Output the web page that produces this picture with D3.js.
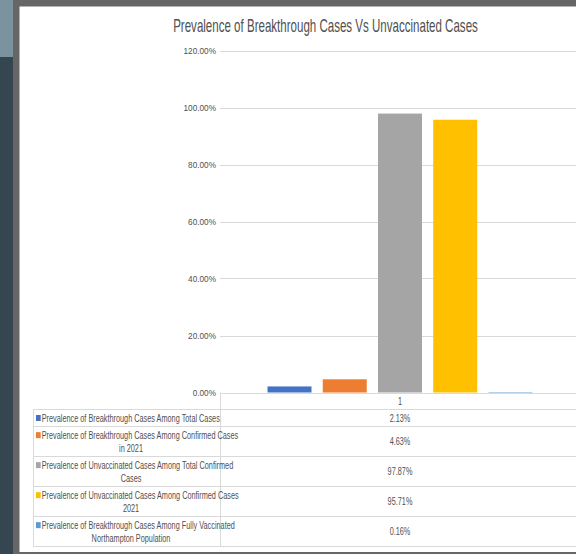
<!DOCTYPE html>
<html>
<head>
<meta charset="utf-8">
<script src="https://cdn.jsdelivr.net/npm/d3@7"></script>
<style>
  html, body { margin: 0; padding: 0; background: #666; }
  svg { display: block; }
  text { font-family: "Liberation Sans", Arial, sans-serif; fill: #505050; }
</style>
</head>
<body>
<svg id="chart" width="576" height="554"></svg>
<script>
// ---- data ----
const title = "Prevalence of Breakthrough Cases Vs Unvaccinated Cases";
const categories = ["1"];
const seriesNames = [
  "Prevalence of Breakthrough Cases Among Total Cases",
  "Prevalence of Breakthrough Cases Among Confirmed Cases\nin 2021",
  "Prevalence of Unvaccinated Cases Among Total Confirmed\nCases",
  "Prevalence of Unvaccinated Cases Among Confirmed Cases\n2021",
  "Prevalence of Breakthrough Cases Among Fully Vaccinated\nNorthampton Population"
];
const seriesValues = [0.0213, 0.0463, 0.9787, 0.9571, 0.0016];
const seriesColors = ["#4472C4", "#ED7D31", "#A5A5A5", "#FFC000", "#5B9BD5"];
const yTicks = [0, 0.2, 0.4, 0.6, 0.8, 1.0, 1.2];

// ---- layout ----
const svg = d3.select("#chart");
const W = 576, H = 554;
const plot = { left: 220, right: 580, top: 50.5, bottom: 392.5 };
const FS_TABLE = 10.6, SX_TABLE = 0.69, SX_TITLE = 0.66, SX_TICK = 0.84;

// page background / frame
svg.append("rect").attr("x", 0).attr("y", 0).attr("width", W).attr("height", H).attr("fill", "#666666");
svg.append("rect").attr("x", 0).attr("y", 0).attr("width", 13).attr("height", 57).attr("fill", "#7b939e");
svg.append("rect").attr("x", 0).attr("y", 57).attr("width", 13).attr("height", H - 57).attr("fill", "#354651");
svg.append("rect").attr("x", 19.5).attr("y", 6.5).attr("width", W - 19.5).attr("height", 545.5).attr("fill", "#ffffff");

// scales
const y = d3.scaleLinear().domain([0, 1.2]).range([plot.bottom, plot.top]);
const x0 = d3.scaleBand().domain(categories).range([plot.left, plot.right]).padding(0);
const x1 = d3.scaleBand().domain(d3.range(seriesNames.length))
  .range([0, x0.bandwidth()]).paddingInner(0.2036).paddingOuter(0.86);

// gridlines
svg.append("g").selectAll("line").data(yTicks).join("line")
  .attr("x1", plot.left).attr("x2", W)
  .attr("y1", d => Math.round(y(d)) + 0.5).attr("y2", d => Math.round(y(d)) + 0.5)
  .attr("stroke", "#d9d9d9").attr("stroke-width", 1);

// y axis labels
const fmt = d3.format(".2%");
svg.append("g").selectAll("text").data(yTicks).join("text")
  .attr("transform", d => `translate(216,${y(d)}) scale(${SX_TICK},1)`)
  .attr("text-anchor", "end").attr("dy", "0.35em")
  .style("font-size", "9.8px")
  .text(d => fmt(d));

// bars
const barG = svg.append("g");
categories.forEach(cat => {
  barG.selectAll("rect.bar").data(seriesValues).join("rect")
    .attr("class", "bar")
    .attr("x", (d, i) => x0(cat) + x1(i))
    .attr("width", x1.bandwidth())
    .attr("y", d => y(d))
    .attr("height", d => y(0) - y(d))
    .attr("fill", (d, i) => seriesColors[i]);
});

// title
svg.append("text")
  .attr("transform", `translate(325.5,31.5) scale(${SX_TITLE},1)`)
  .attr("text-anchor", "middle")
  .style("font-size", "17.5px")
  .text(title);

// data table
const tableLeft = 33.5;
const headerTop = plot.bottom, headerBottom = 409.5;
const rowEdges = [409.5, 426.5, 456.5, 486.5, 516.5, 546.5];
const tg = svg.append("g");
const lineColor = "#d9d9d9";
rowEdges.forEach(yy => {
  tg.append("line").attr("x1", tableLeft).attr("x2", W).attr("y1", yy).attr("y2", yy)
    .attr("stroke", lineColor);
});
tg.append("line").attr("x1", tableLeft).attr("x2", tableLeft).attr("y1", rowEdges[0]).attr("y2", rowEdges[rowEdges.length - 1]).attr("stroke", lineColor);
tg.append("line").attr("x1", plot.left + 0.5).attr("x2", plot.left + 0.5).attr("y1", headerTop).attr("y2", rowEdges[rowEdges.length - 1]).attr("stroke", lineColor);

// category label in header row
categories.forEach(cat => {
  tg.append("text")
    .attr("transform", `translate(${x0(cat) + x0.bandwidth() / 2},${(headerTop + headerBottom) / 2}) scale(${SX_TABLE},1)`)
    .attr("text-anchor", "middle").attr("dy", "0.35em")
    .style("font-size", FS_TABLE + "px")
    .text(cat);
});

// rows
const lineH = 12.7;
seriesNames.forEach((name, i) => {
  const top = rowEdges[i], bot = rowEdges[i + 1];
  const mid = (top + bot) / 2;
  const lines = name.split("\n");
  const firstY = mid - (lines.length - 1) * lineH / 2;
  tg.append("rect")
    .attr("x", 36).attr("y", firstY - 3).attr("width", 4.7).attr("height", 6)
    .attr("fill", seriesColors[i]);
  lines.forEach((ln, j) => {
    const yy = firstY + j * lineH;
    tg.append("text")
      .attr("transform", j === 0
        ? `translate(41.7,${yy}) scale(${SX_TABLE},1)`
        : `translate(131,${yy}) scale(${SX_TABLE},1)`)
      .attr("text-anchor", j === 0 ? "start" : "middle").attr("dy", "0.35em")
      .style("font-size", FS_TABLE + "px").text(ln);
  });
  categories.forEach(cat => {
    tg.append("text")
      .attr("transform", `translate(${x0(cat) + x0.bandwidth() / 2},${mid}) scale(${SX_TABLE},1)`)
      .attr("text-anchor", "middle").attr("dy", "0.35em")
      .style("font-size", FS_TABLE + "px")
      .text(fmt(seriesValues[i]));
  });
});
</script>
</body>
</html>
